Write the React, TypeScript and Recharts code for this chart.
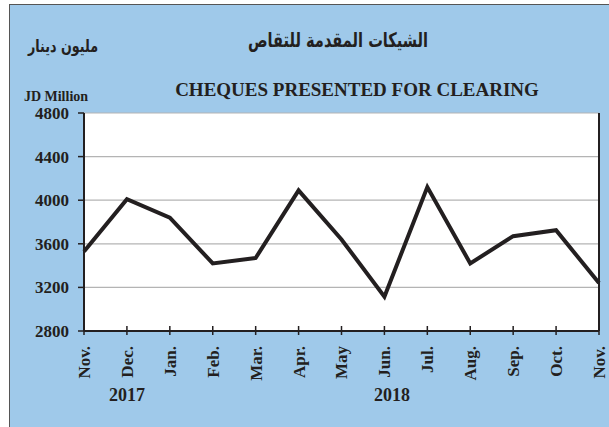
import { LineChart, Line, XAxis, YAxis, CartesianGrid, ReferenceLine } from 'recharts';

const periods = ['2017-11', '2017-12', '2018-01', '2018-02', '2018-03', '2018-04', '2018-05', '2018-06', '2018-07', '2018-08', '2018-09', '2018-10', '2018-11'];
const monthLabels = ['Nov.', 'Dec.', 'Jan.', 'Feb.', 'Mar.', 'Apr.', 'May', 'Jun.', 'Jul.', 'Aug.', 'Sep.', 'Oct.', 'Nov.'];
const cheques = [3530, 4010, 3840, 3420, 3470, 4090, 3640, 3115, 4120, 3420, 3670, 3725, 3240];
const yTicks = [2800, 3200, 3600, 4000, 4400, 4800];

const data = periods.map((p, i) => ({ period: p, month: monthLabels[i], value: cheques[i] }));

const ink = '#231f20';
const serif = '"Liberation Serif", "Times New Roman", serif';
const arabic = '"DejaVu Sans", sans-serif';

function MonthTick(props: any) {
  const { x, y, index } = props;
  return (
    <g>
      <line x1={x} x2={x} y1={y - 7} y2={y + 2} stroke={ink} strokeWidth={1.5} />
      <text
        x={x}
        y={y + 13}
        dy="0.35em"
        transform={`rotate(-90, ${x}, ${y + 13})`}
        textAnchor="end"
        fontFamily={serif}
        fontWeight="bold"
        fontSize={17}
        fill={ink}
      >
        {monthLabels[index]}
      </text>
    </g>
  );
}

export default function App() {
  return (
    <div style={{ position: 'absolute', left: 0, top: 0, width: 609, height: 427, background: '#fff' }}>
      <div
        style={{
          position: 'absolute',
          left: 9,
          top: 4,
          width: 600,
          height: 423,
          background: '#9fc9ea',
          borderTop: '1.5px solid #555',
          borderLeft: '1.5px solid #555',
          boxSizing: 'border-box',
        }}
      />
      <div style={{ position: 'absolute', left: 0, top: 0 }}>
        <LineChart width={609} height={427} data={data} margin={{ top: 113, right: 10, bottom: 66, left: 0 }}>
          <CartesianGrid vertical={false} fill="#fff" stroke="#b4b4b4" strokeWidth={1.2} />
          <XAxis
            dataKey="period"
            height={30}
            interval={0}
            tickLine={false}
            tickSize={0}
            tick={<MonthTick />}
            axisLine={{ stroke: ink, strokeWidth: 2 }}
          />
          <YAxis
            width={84}
            domain={[2800, 4800]}
            ticks={yTicks}
            interval={0}
            tickSize={6}
            tickMargin={9}
            tickLine={{ stroke: ink, strokeWidth: 1.5 }}
            axisLine={{ stroke: ink, strokeWidth: 2 }}
            tick={{ fill: ink, fontFamily: serif, fontWeight: 'bold', fontSize: 17 }}
          />
          <ReferenceLine x="2018-11" stroke={ink} strokeWidth={2} />
          <Line
            type="linear"
            dataKey="value"
            stroke={ink}
            strokeWidth={4}
            dot={false}
            isAnimationActive={false}
          />
        </LineChart>
      </div>
      <svg width={609} height={427} style={{ position: 'absolute', left: 0, top: 0, pointerEvents: 'none' }}>
        <text x={338} y={40} dy="0.35em" textAnchor="middle" fontFamily={arabic} fontWeight="bold" fontSize={20} fill={ink} direction="rtl" textLength={180} lengthAdjust="spacingAndGlyphs">
          الشيكات المقدمة للتقاص
        </text>
        <text x={63} y={46} dy="0.35em" textAnchor="middle" fontFamily={arabic} fontWeight="bold" fontSize={17} fill={ink} direction="rtl" textLength={70} lengthAdjust="spacingAndGlyphs">
          مليون دينار
        </text>
        <text x={357} y={89} dy="0.35em" textAnchor="middle" fontFamily={serif} fontWeight="bold" fontSize={19} fill={ink}>
          CHEQUES PRESENTED FOR CLEARING
        </text>
        <text x={56} y={96} dy="0.35em" textAnchor="middle" fontFamily={serif} fontWeight="bold" fontSize={14} fill={ink}>
          JD Million
        </text>
        <text x={127} y={395} dy="0.35em" textAnchor="middle" fontFamily={serif} fontWeight="bold" fontSize={18} fill={ink}>
          2017
        </text>
        <text x={392} y={395} dy="0.35em" textAnchor="middle" fontFamily={serif} fontWeight="bold" fontSize={18} fill={ink}>
          2018
        </text>
      </svg>
    </div>
  );
}
